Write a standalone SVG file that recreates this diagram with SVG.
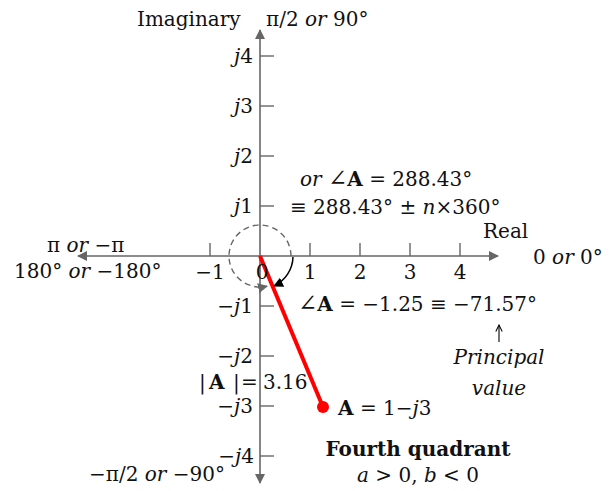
<svg xmlns="http://www.w3.org/2000/svg" width="614" height="491" viewBox="0 0 614 491">
<style>
text{font-family:"DejaVu Serif","Liberation Serif",serif;font-size:20px;fill:#111}
.i{font-style:italic}
.b{font-weight:bold}
.ang{font-size:23px}
.axis{stroke:#666;stroke-width:1.6;fill:none}
.tick{stroke:#666;stroke-width:1.4}
.mid{text-anchor:middle}
.end{text-anchor:end}
</style>
<defs>
<marker id="ga" viewBox="0 0 10 10" refX="9" refY="5" markerWidth="10" markerHeight="10" markerUnits="userSpaceOnUse" orient="auto"><path d="M0,0 L10,5 L0,10 Z" fill="#666"/></marker>
<marker id="ba" viewBox="0 0 10 10" refX="9" refY="5" markerWidth="10" markerHeight="10" markerUnits="userSpaceOnUse" orient="auto"><path d="M0,0 L10,5 L0,10 Z" fill="#000"/></marker>
<marker id="oa" viewBox="0 0 10 10" refX="9" refY="5" markerWidth="8" markerHeight="8" markerUnits="userSpaceOnUse" orient="auto"><path d="M1,1 L9,5 L1,9" fill="none" stroke="#000" stroke-width="1.3"/></marker>
</defs>
<g id="connectors">
<line class="axis" x1="260" y1="256" x2="498" y2="256" marker-end="url(#ga)"/>
<line class="axis" x1="260" y1="256" x2="78" y2="256" marker-end="url(#ga)"/>
<line class="axis" x1="260" y1="256" x2="260" y2="30" marker-end="url(#ga)"/>
<line class="axis" x1="260" y1="256" x2="260" y2="483" marker-end="url(#ga)"/>
<g class="tick">
<line x1="210" y1="243" x2="210" y2="256"/><line x1="310" y1="243" x2="310" y2="256"/><line x1="360" y1="243" x2="360" y2="256"/><line x1="410" y1="243" x2="410" y2="256"/><line x1="460" y1="243" x2="460" y2="256"/>
<line x1="260" y1="56" x2="274" y2="56"/><line x1="260" y1="106" x2="274" y2="106"/><line x1="260" y1="156" x2="274" y2="156"/><line x1="260" y1="206" x2="274" y2="206"/>
<line x1="260" y1="306" x2="274" y2="306"/><line x1="260" y1="356" x2="274" y2="356"/><line x1="260" y1="406" x2="274" y2="406"/><line x1="260" y1="456" x2="274" y2="456"/>
</g>
<path d="M291,256 A31,31 0 1 0 267,286.2" fill="none" stroke="#666" stroke-width="1.4" stroke-dasharray="6,4" marker-end="url(#ga)"/>
<path d="M293,257 A33,33 0 0 1 274,286" fill="none" stroke="#000" stroke-width="1.5" marker-end="url(#ba)"/>
<line x1="499" y1="342" x2="499" y2="325" stroke="#000" stroke-width="1.1" marker-end="url(#oa)"/>
<line x1="260" y1="256" x2="323" y2="407" stroke="#f00" stroke-width="4"/>
</g>
<g id="phasor"><circle cx="323" cy="407" r="6" fill="#f00"/></g>
<g id="axis-labels">
<text x="137" y="26">Imaginary</text>
<text x="266" y="26">π/2 <tspan class="i">or</tspan> 90°</text>
<text x="483" y="238">Real</text>
<text x="533" y="264">0 <tspan class="i">or</tspan> 0°</text>
<text x="47" y="252">π <tspan class="i">or</tspan> −π</text>
<text x="14" y="278">180° <tspan class="i">or</tspan> −180°</text>
<text class="end" x="225" y="481">−π/2 <tspan class="i">or</tspan> −90°</text>
</g>
<g id="ticks-labels">
<text class="mid" x="210" y="279">−1</text>
<text class="mid" x="262" y="279">0</text>
<text class="mid" x="310" y="279">1</text>
<text class="mid" x="360" y="279">2</text>
<text class="mid" x="410" y="279">3</text>
<text class="mid" x="460" y="279">4</text>
<text class="end" x="253" y="63"><tspan class="i">j</tspan>4</text>
<text class="end" x="253" y="113"><tspan class="i">j</tspan>3</text>
<text class="end" x="253" y="163"><tspan class="i">j</tspan>2</text>
<text class="end" x="253" y="213"><tspan class="i">j</tspan>1</text>
<text class="end" x="253" y="313">−<tspan class="i">j</tspan>1</text>
<text class="end" x="253" y="363">−<tspan class="i">j</tspan>2</text>
<text class="end" x="253" y="413">−<tspan class="i">j</tspan>3</text>
<text class="end" x="254" y="463">−<tspan class="i">j</tspan>4</text>
</g>
<g id="angle-pos">
<text x="300" y="186"><tspan class="i">or</tspan> <tspan class="ang">∠</tspan><tspan class="b">A</tspan> = 288.43°</text>
<text x="290" y="214">≡ 288.43° ± <tspan class="i">n</tspan>×360°</text>
</g>
<g id="angle-principal">
<text x="298" y="311"><tspan class="ang">∠</tspan><tspan class="b">A</tspan> = −1.25 ≡ −71.57°</text>
<text class="mid i" x="499" y="364">Principal</text>
<text class="mid i" x="499" y="395">value</text>
</g>
<g id="magnitude">
<text x="199" y="389">|<tspan x="209" class="b">A</tspan><tspan x="233">|</tspan><tspan x="241">=</tspan><tspan x="263">3.16</tspan></text>
</g>
<g id="point-label">
<text x="338" y="415"><tspan class="b">A</tspan> = 1−<tspan class="i">j</tspan>3</text>
</g>
<g id="quadrant">
<text class="mid b" x="418" y="456">Fourth quadrant</text>
<text class="mid" x="418" y="482"><tspan class="i">a</tspan> &gt; 0, <tspan class="i">b</tspan> &lt; 0</text>
</g>
</svg>
